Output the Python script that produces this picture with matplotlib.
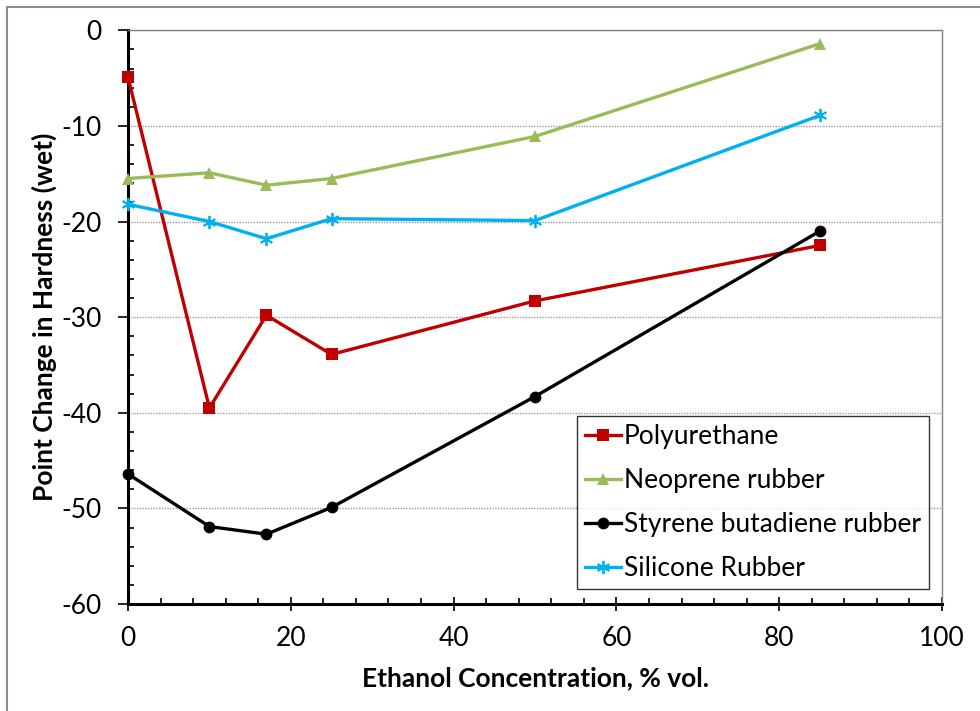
import matplotlib
matplotlib.use("Agg")
import matplotlib.pyplot as plt
from matplotlib.patches import Rectangle
from matplotlib.ticker import MultipleLocator

plt.rcParams['font.family'] = ['Lato', 'DejaVu Sans']
plt.rcParams['axes.unicode_minus'] = False

ethanol = [0, 10, 17, 25, 50, 85]
polyurethane = [-4.9, -39.5, -29.8, -33.9, -28.3, -22.5]
neoprene = [-15.5, -14.9, -16.2, -15.5, -11.1, -1.4]
sbr = [-46.4, -51.9, -52.7, -49.9, -38.3, -21.0]
silicone = [-18.2, -20.0, -21.8, -19.7, -19.9, -8.9]

series = [
    ("Polyurethane", polyurethane, "#C00000", "s", 8.5),
    ("Neoprene rubber", neoprene, "#9BBB59", "^", 9),
    ("Styrene butadiene rubber", sbr, "#000000", "o", 8.5),
    ("Silicone Rubber", silicone, "#00B0F0", (6, 2, 0), 9.5),
]

FS = 19
W, H = 980, 711
fig = plt.figure(figsize=(W / 100, H / 100), dpi=100)
ax = fig.add_axes([128 / W, 1 - 604 / H, (942 - 128) / W, (604 - 30.3) / H])

for name, vals, col, mk, ms in series:
    if mk == (6, 2, 0):
        kw = dict(markeredgewidth=1.3, markeredgecolor=col)
    else:
        kw = dict(markeredgewidth=0)
    ax.plot(ethanol, vals, color=col, lw=2.4, marker=mk, markersize=ms,
            markerfacecolor=col, label=name, clip_on=False, zorder=3, **kw)

ax.set_xlim(0, 100)
ax.set_ylim(-60, 0)
ax.xaxis.set_major_locator(MultipleLocator(20))
ax.xaxis.set_minor_locator(MultipleLocator(4))
ax.yaxis.set_major_locator(MultipleLocator(10))
ax.yaxis.set_minor_locator(MultipleLocator(2))

ax.grid(axis='y', which='major', color='#9a9a9a', linestyle=(0, (1, 1)), lw=1.0)
ax.set_axisbelow(True)

for s in ['left', 'bottom']:
    ax.spines[s].set_linewidth(2.2)
    ax.spines[s].set_color('black')
for s in ['top', 'right']:
    ax.spines[s].set_linewidth(1.0)
    ax.spines[s].set_color('#808080')

ax.tick_params(axis='x', which='major', direction='inout', length=10, width=1.2,
               labelsize=FS, pad=11, color='black')
ax.tick_params(axis='x', which='minor', direction='in', length=4.5, width=1.2)
ax.tick_params(axis='y', which='major', direction='out', length=7, width=1.2,
               labelsize=FS, pad=12)
ax.tick_params(axis='y', which='minor', direction='in', length=4.5, width=1.2)

ax.set_xlabel("Ethanol Concentration, % vol.", fontsize=FS, fontweight='bold', labelpad=11)
ax.set_ylabel("Point Change in Hardness (wet)", fontsize=FS, fontweight='bold', labelpad=3)

leg = ax.legend(loc='upper right', bbox_to_anchor=((929 - 128) / (942 - 128), (604 - 416) / (604 - 30.3)),
                borderaxespad=0, fontsize=FS, frameon=True, fancybox=False,
                edgecolor='black', handlelength=1.35, handletextpad=0.12,
                labelspacing=0.72, borderpad=0.3)
leg.get_frame().set_linewidth(1.0)

fig.add_artist(Rectangle((7 / W, -0.1), 1.2, 1.1 - 7 / H, transform=fig.transFigure,
                         fill=False, edgecolor='#8c8c8c', lw=1.5))

fig.savefig("out.png", dpi=100)
